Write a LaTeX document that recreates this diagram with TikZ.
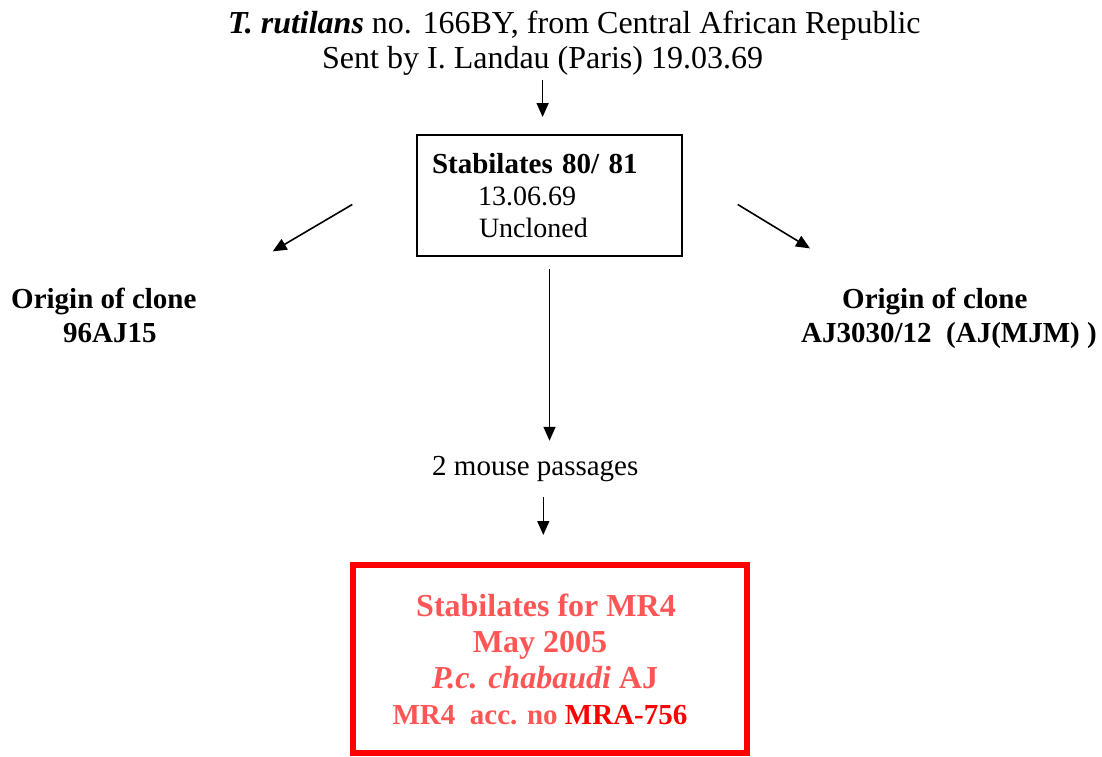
\documentclass[tikz,border=0pt]{standalone}
\usepackage{fontspec}
\setmainfont{Liberation Serif}
\usetikzlibrary{arrows.meta}
\definecolor{mrred}{RGB}{255,0,0}
\definecolor{mrpink}{RGB}{255,85,85}
\tikzset{
  arr/.style={-{Triangle[length=14pt,width=12pt]}, line width=1.6pt},
  txt/.style={anchor=base west, inner sep=0pt, font=\fontsize{29}{33}\selectfont},
  bigtxt/.style={txt, font=\fontsize{32}{36}\selectfont},
  stabbox/.style={draw, line width=1.5pt, minimum width=265pt, minimum height=121pt,
    text width=265pt, inner xsep=0pt, align=left, font=\fontsize{28}{32}\selectfont},
  mrbox/.style={draw=mrred, line width=6pt, minimum width=394pt, minimum height=188pt,
    align=center, text=mrpink, font=\fontsize{32}{36}\selectfont\bfseries},
}
\begin{document}
\begin{tikzpicture}[x=1pt,y=-1pt]
\useasboundingbox (0,0) rectangle (1102,756);
% where it came from
\node[bigtxt] (src1) at (228,33) {\textbf{\textit{T. rutilans}} no. 166BY, from Central African Republic};
\node[bigtxt] (src2) at (322,68) {Sent by I. Landau (Paris) 19.03.69};
% stabilates
\node[stabbox] (stab) at (549.5,195.5) {\hspace*{15pt}\mbox{\fontsize{29}{32}\selectfont\bfseries Stabilates 80/ 81}\\\hspace*{61pt}13.06.69\\\hspace*{62pt}Uncloned};
% clones
\node[txt] (lorig) at (11,308) {\textbf{Origin of clone}};
\node[txt] (lclone) at (63,342) {\textbf{96AJ15}};
\node[txt] (rorig) at (842,308) {\textbf{Origin of clone}};
\node[txt] (rclone) at (801,342) {\textbf{AJ3030/12~ (AJ(MJM) )}};
% passages
\node[txt] (mouse) at (432,475) {2 mouse passages};
\node[mrbox] (mr4) at (550,659) {\hspace*{-8pt}Stabilates for MR4\\\hspace*{-20pt}May 2005\\\hspace*{-10pt}\textit{P.c. chabaudi} AJ\\\hspace*{-20pt}{\fontsize{29}{36}\selectfont MR4~ acc. no \textcolor{mrred}{MRA-756}}};
% arrows
\draw[arr] ([shift={(0,12)}]src2.base) -- ++(0,37);
\draw[arr] ([shift={(-64,9)}]stab.west) -- ([shift={(76,-36)}]lorig.north east);
\draw[arr] ([shift={(55,9)}]stab.east) -- ([shift={(-32,-39)}]rorig.north west);
\draw[arr] ([shift={(0,12)}]stab.south) -- ++(0,172);
\draw[arr] ([shift={(8,22)}]mouse.base) -- ++(0,38);
\end{tikzpicture}
\end{document}
